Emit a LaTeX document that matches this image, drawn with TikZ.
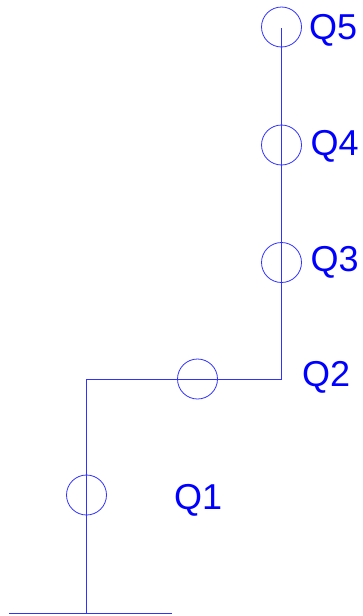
\documentclass[tikz,border=0pt]{standalone}
\usepackage{fontspec}
\setmainfont{Liberation Sans}
\definecolor{wire}{RGB}{50,50,255}
\definecolor{lbl}{RGB}{0,0,255}
\tikzset{
  wireline/.style={draw=wire, line width=0.9pt},
  meter/.style={circle, draw=wire, line width=0.8pt, minimum size=40pt, inner sep=0pt},
  qlabel/.style={text=lbl, inner sep=0pt, anchor=base west, font=\fontsize{36}{40}\selectfont}
}
\begin{document}
\begin{tikzpicture}[x=1pt, y=-1pt]
\useasboundingbox (0,0) rectangle (363,616);
% corners and ends
\coordinate (top) at (281.5,28);
\coordinate (c1) at (281.5,379);
\coordinate (c2) at (86.5,379);
\coordinate (bot) at (86.5,613);
\coordinate (gl) at (9,613);
\coordinate (gr) at (172,613);
% wires
\draw[wireline] (top) -- (c1) -- (c2) -- (bot);
\draw[wireline] (gl) -- (gr);
% meters
\node[meter] (m5) at (281.5,27) {};
\node[meter] (m4) at (281.5,145) {};
\node[meter] (m3) at (281.5,262.5) {};
\node[meter] (m2) at (197.5,379) {};
\node[meter] (m1) at (86.5,495) {};
% labels
\node[qlabel] (q5) at (309,39.5) {Q5};
\node[qlabel] (q4) at (310.5,155) {Q4};
\node[qlabel] (q3) at (310.5,271.5) {Q3};
\node[qlabel] (q2) at (302,386) {Q2};
\node[qlabel] (q1) at (174,509) {Q1};
\end{tikzpicture}
\end{document}
